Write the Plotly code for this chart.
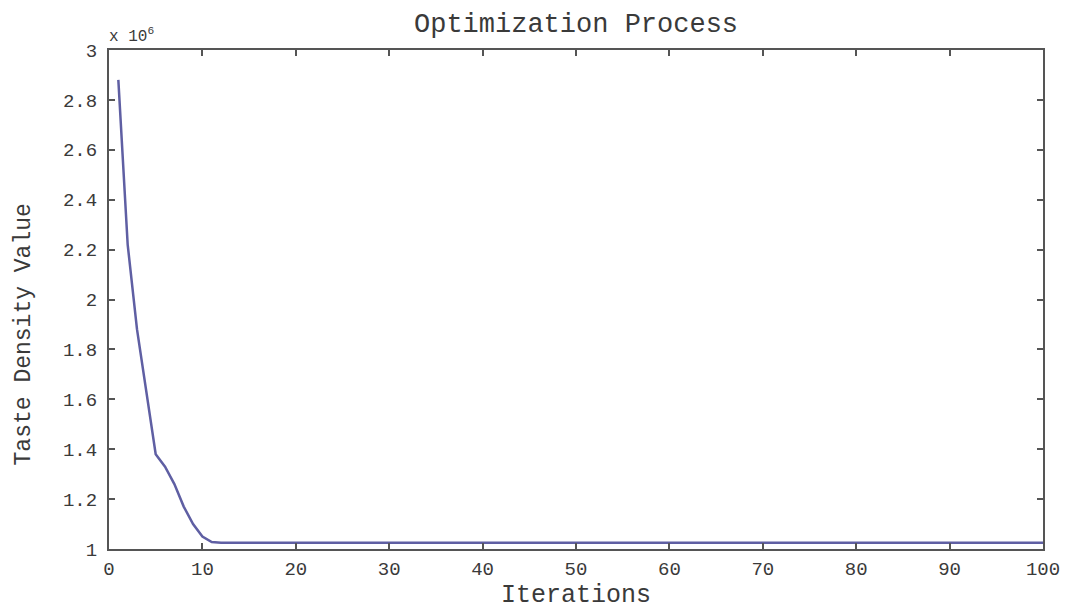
import plotly.graph_objects as go

# Iterations and objective values (in units of 1e6)
iterations = list(range(1, 101))
values_head = [2.88, 2.22, 1.88, 1.62, 1.38, 1.33, 1.26, 1.17, 1.10, 1.05, 1.028]
flat_value = 1.025
values = values_head + [flat_value] * (len(iterations) - len(values_head))

x_ticks = [0, 10, 20, 30, 40, 50, 60, 70, 80, 90, 100]
y_ticks = [1, 1.2, 1.4, 1.6, 1.8, 2, 2.2, 2.4, 2.6, 2.8, 3]
y_tick_text = ["1", "1.2", "1.4", "1.6", "1.8", "2", "2.2", "2.4", "2.6", "2.8", "3"]

title_text = "Optimization Process"
x_title = "Iterations"
y_title = "Taste Density Value"

axis_color = "#555555"
text_color = "#3a3a3a"
mono = "Liberation Mono"

fig = go.Figure()
fig.add_trace(go.Scatter(
    x=iterations, y=values, mode="lines",
    line=dict(color="#5f5fa3", width=2.5),
    showlegend=False, hoverinfo="skip",
))

axis_common = dict(
    showgrid=False, zeroline=False,
    showline=True, linecolor=axis_color, linewidth=2,
    mirror="ticks", ticks="inside", ticklen=6, tickwidth=1.5, tickcolor=axis_color,
    tickfont=dict(family=mono, size=19, color=text_color),
)

fig.update_xaxes(range=[0, 100], tickvals=x_ticks, ticktext=[str(v) for v in x_ticks],
                 ticklabelstandoff=1, **axis_common)
fig.update_yaxes(range=[1, 3], tickvals=y_ticks, ticktext=y_tick_text,
                 ticklabelstandoff=6, **axis_common)

fig.update_layout(
    width=1072, height=609,
    margin=dict(l=109, r=24, t=50, b=60),
    paper_bgcolor="white", plot_bgcolor="white",
    annotations=[
        dict(text=title_text, x=0.5, y=1, xref="paper", yref="paper",
             xanchor="center", yanchor="bottom", yshift=8, showarrow=False,
             font=dict(family=mono, size=27, color=text_color)),
        dict(text=x_title, x=0.5, y=0, xref="paper", yref="paper",
             xanchor="center", yanchor="top", yshift=-30, showarrow=False,
             font=dict(family=mono, size=25, color=text_color)),
        dict(text=y_title, x=0, y=0.43, xref="paper", yref="paper",
             xanchor="right", yanchor="middle", xshift=-70, textangle=-90, showarrow=False,
             font=dict(family=mono, size=23, color=text_color)),
        dict(text="x 10<sup>6</sup>", x=0, y=1, xref="paper", yref="paper",
             xanchor="left", yanchor="bottom", xshift=-2, yshift=2, showarrow=False,
             font=dict(family=mono, size=16, color=text_color)),
    ],
)

fig.write_html("out.html")
